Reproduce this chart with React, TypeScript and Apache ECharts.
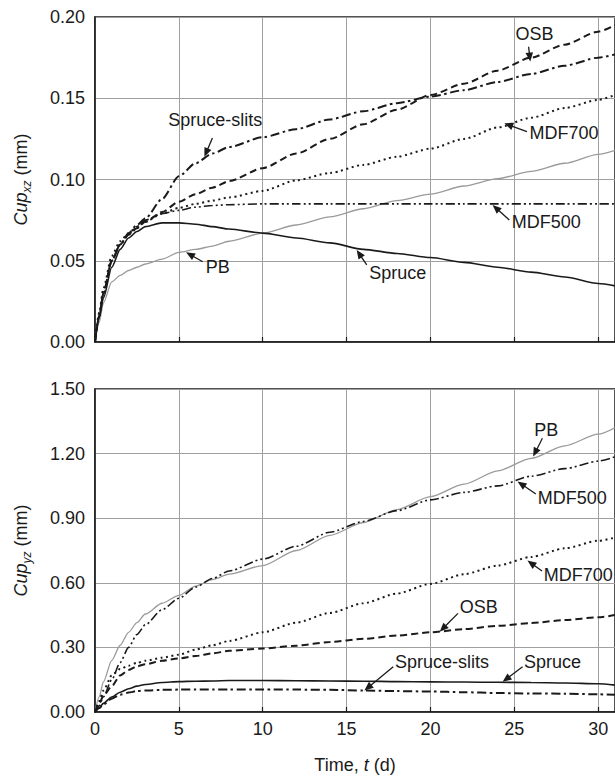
import React, { useEffect, useRef } from "react";
import * as echarts from "echarts";

// ---- data (time in days) ----
const time = [0, 0.25, 0.5, 1, 1.5, 2, 2.5, 3, 4, 5, 6, 7, 8, 10, 12, 14, 16, 18, 20, 22, 24, 26, 28, 30, 31];

// Top panel: Cup_xz (mm)
const xzSpruce = [0, 0.015, 0.027, 0.046, 0.057, 0.064, 0.068, 0.071, 0.0733, 0.0733, 0.0725, 0.071, 0.0695, 0.067, 0.064, 0.061, 0.057, 0.0545, 0.052, 0.049, 0.046, 0.043, 0.04, 0.036, 0.0345];
const xzPB = [0, 0.012, 0.024, 0.037, 0.041, 0.044, 0.046, 0.048, 0.051, 0.0552, 0.057, 0.059, 0.062, 0.067, 0.072, 0.077, 0.082, 0.087, 0.091, 0.096, 0.1005, 0.105, 0.11, 0.1155, 0.118];
const xzMDF500 = [0, 0.016, 0.03, 0.05, 0.06, 0.066, 0.071, 0.075, 0.079, 0.081, 0.083, 0.084, 0.0845, 0.085, 0.085, 0.085, 0.085, 0.085, 0.085, 0.085, 0.085, 0.085, 0.085, 0.085, 0.085];
const xzMDF700 = [0, 0.018, 0.033, 0.053, 0.062, 0.067, 0.071, 0.074, 0.079, 0.0825, 0.085, 0.087, 0.089, 0.093, 0.0995, 0.104, 0.109, 0.114, 0.119, 0.125, 0.132, 0.138, 0.144, 0.149, 0.152];
const xzOSB = [0, 0.016, 0.03, 0.05, 0.06, 0.066, 0.07, 0.074, 0.08, 0.0863, 0.091, 0.095, 0.099, 0.107, 0.116, 0.125, 0.134, 0.143, 0.152, 0.159, 0.167, 0.175, 0.183, 0.191, 0.195];
const xzSpruceSlits = [0, 0.016, 0.03, 0.05, 0.06, 0.067, 0.072, 0.076, 0.088, 0.102, 0.11, 0.116, 0.12, 0.126, 0.131, 0.137, 0.142, 0.147, 0.151, 0.155, 0.16, 0.165, 0.17, 0.175, 0.177];

// Bottom panel: Cup_yz (mm)
const yzPB = [0, 0.07, 0.14, 0.24, 0.31, 0.37, 0.415, 0.455, 0.505, 0.542, 0.585, 0.615, 0.64, 0.68, 0.75, 0.82, 0.88, 0.94, 1.0, 1.058, 1.12, 1.178, 1.236, 1.29, 1.32];
const yzMDF500 = [0, 0.03, 0.07, 0.15, 0.23, 0.3, 0.36, 0.405, 0.475, 0.528, 0.58, 0.62, 0.655, 0.71, 0.77, 0.835, 0.885, 0.935, 0.985, 1.02, 1.05, 1.095, 1.13, 1.165, 1.185];
const yzMDF700 = [0, 0.05, 0.1, 0.17, 0.2, 0.215, 0.228, 0.238, 0.252, 0.266, 0.29, 0.31, 0.33, 0.37, 0.415, 0.46, 0.505, 0.55, 0.595, 0.64, 0.68, 0.72, 0.76, 0.795, 0.81];
const yzOSB = [0, 0.04, 0.075, 0.12, 0.17, 0.195, 0.212, 0.222, 0.238, 0.249, 0.26, 0.272, 0.284, 0.295, 0.308, 0.325, 0.34, 0.355, 0.37, 0.385, 0.4, 0.413, 0.427, 0.44, 0.45];
const yzSpruce = [0, 0.02, 0.04, 0.07, 0.092, 0.108, 0.12, 0.128, 0.137, 0.141, 0.143, 0.144, 0.146, 0.146, 0.145, 0.144, 0.143, 0.141, 0.14, 0.139, 0.138, 0.137, 0.135, 0.131, 0.125];
const yzSpruceSlits = [0, 0.018, 0.035, 0.062, 0.08, 0.09, 0.097, 0.1, 0.103, 0.104, 0.105, 0.105, 0.105, 0.104, 0.104, 0.103, 0.1, 0.097, 0.095, 0.092, 0.088, 0.086, 0.085, 0.082, 0.08];

const xTicks = [0, 5, 10, 15, 20, 25, 30];

// annotations: label anchor, arrow tail, arrow tip (data units)
const topNotes = [
  { text: "Spruce-slits", at: [7.17, 0.1366], align: "center", tail: [7.0, 0.1255], tip: [6.52, 0.114] },
  { text: "PB", at: [6.6, 0.0464], align: "left", tail: [6.42, 0.0494], tip: [5.43, 0.0552] },
  { text: "OSB", at: [26.2, 0.1895], align: "center", tail: [25.85, 0.1817], tip: [25.95, 0.1726] },
  { text: "MDF700", at: [25.9, 0.1284], align: "left", tail: [25.75, 0.1294], tip: [24.4, 0.1346] },
  { text: "MDF500", at: [24.85, 0.074], align: "left", tail: [24.7, 0.0751], tip: [23.7, 0.0843] },
  { text: "Spruce", at: [16.35, 0.0423], align: "left", tail: [16.2, 0.0474], tip: [15.6, 0.0566] },
];
const bottomNotes = [
  { text: "PB", at: [26.9, 1.31], align: "center", tail: [26.67, 1.271], tip: [26.12, 1.186] },
  { text: "MDF500", at: [26.4, 0.9926], align: "left", tail: [26.28, 1.0125], tip: [25.19, 1.07] },
  { text: "MDF700", at: [26.75, 0.636], align: "left", tail: [26.65, 0.655], tip: [25.78, 0.703] },
  { text: "OSB", at: [22.88, 0.489], align: "center", tail: [21.64, 0.458], tip: [20.55, 0.373] },
  { text: "Spruce-slits", at: [20.69, 0.234], align: "center", tail: [17.78, 0.21], tip: [16.06, 0.1] },
  { text: "Spruce", at: [27.27, 0.234], align: "center", tail: [25.49, 0.21], tip: [24.3, 0.14] },
];

const FONT = "Liberation Sans, Arial, Helvetica, sans-serif";
const INK = "#1a1a1a";
const FS = 18;

const pairs = (vals: number[]) => time.map((t, i) => [t, vals[i]]);

const styles: Record<string, any> = {
  Spruce: { color: INK, width: 1.6, type: "solid" },
  PB: { color: "#9a9a9a", width: 1.3, type: "solid" },
  MDF500: { color: INK, width: 1.6, type: [9, 3, 2, 3, 2, 3] },
  MDF700: { color: INK, width: 2, type: [2, 3.5] },
  OSB: { color: INK, width: 2, type: [7, 4] },
  "Spruce-slits": { color: INK, width: 2, type: [9, 3.5, 2.5, 3.5] },
};

function mkSeries(name: string, vals: number[], idx: number) {
  const s = styles[name];
  return {
    name,
    type: "line",
    xAxisIndex: idx,
    yAxisIndex: idx,
    data: pairs(vals),
    showSymbol: false,
    smooth: 0.25,
    smoothMonotone: "x",
    lineStyle: { color: s.color, width: s.width, type: s.type },
    z: name === "PB" ? 2 : 3,
  };
}

export default function App() {
  const ref = useRef<HTMLDivElement>(null);
  useEffect(() => {
    if (!ref.current) return;
    const chart = echarts.init(ref.current, null, { renderer: "svg" });
    const gridLine = { show: true, lineStyle: { color: "#a0a0a0", width: 1 } };
    const axisLine = { show: true, onZero: false, lineStyle: { color: INK, width: 1.5 } };
    const xAxisBase = {
      type: "value",
      min: 0,
      max: 31,
      interval: 5,
      splitLine: gridLine,
      axisLine,
      axisTick: { show: true, inside: true, length: 5, lineStyle: { color: INK, width: 1.2 } },
    };
    const yName = (sub: string) => ({
      name: `{i|Cup}{s|${sub}}{n| (mm)}`,
      nameLocation: "middle",
      nameRotate: 90,
      nameGap: 62,
      nameTextStyle: {
        rich: {
          i: { fontFamily: FONT, fontSize: FS, fontStyle: "italic", color: INK, lineHeight: 24, verticalAlign: "middle" },
          s: { fontFamily: FONT, fontSize: 12, fontStyle: "italic", color: INK, lineHeight: 12, verticalAlign: "bottom" },
          n: { fontFamily: FONT, fontSize: FS, color: INK, lineHeight: 24, verticalAlign: "middle" },
        },
      },
    });
    const yLabel = { show: true, color: INK, fontFamily: FONT, fontSize: FS, margin: 10, formatter: (v: number) => v.toFixed(2) };

    const option: any = {
      animation: false,
      backgroundColor: "#ffffff",
      grid: [
        { left: 95, top: 17, width: 523, height: 325, show: true, borderColor: INK, borderWidth: 1.5 },
        { left: 95, top: 389, width: 523, height: 323, show: true, borderColor: INK, borderWidth: 1.5 },
      ],
      xAxis: [
        { ...xAxisBase, gridIndex: 0, axisLabel: { show: false } },
        {
          ...xAxisBase,
          gridIndex: 1,
          axisLabel: {
            show: true,
            color: INK,
            fontFamily: FONT,
            fontSize: FS,
            margin: 8,
            showMaxLabel: false,
            formatter: (v: number) => (xTicks.includes(v) ? String(v) : ""),
          },
          name: "Time, {i|t} (d)",
          nameLocation: "middle",
          nameGap: 44,
          nameTextStyle: {
            color: INK,
            fontFamily: FONT,
            fontSize: FS,
            rich: { i: { fontFamily: FONT, fontSize: FS, fontStyle: "italic", color: INK } },
          },
        },
      ],
      yAxis: [
        {
          type: "value",
          gridIndex: 0,
          min: 0,
          max: 0.2,
          interval: 0.05,
          splitLine: gridLine,
          axisLine,
          axisTick: { show: false },
          axisLabel: yLabel,
          ...yName("xz"),
        },
        {
          type: "value",
          gridIndex: 1,
          min: 0,
          max: 1.5,
          interval: 0.3,
          splitLine: gridLine,
          axisLine,
          axisTick: { show: false },
          axisLabel: yLabel,
          ...yName("yz"),
        },
      ],
      series: [
        mkSeries("PB", xzPB, 0),
        mkSeries("Spruce", xzSpruce, 0),
        mkSeries("MDF500", xzMDF500, 0),
        mkSeries("MDF700", xzMDF700, 0),
        mkSeries("OSB", xzOSB, 0),
        mkSeries("Spruce-slits", xzSpruceSlits, 0),
        mkSeries("PB", yzPB, 1),
        mkSeries("MDF500", yzMDF500, 1),
        mkSeries("MDF700", yzMDF700, 1),
        mkSeries("OSB", yzOSB, 1),
        mkSeries("Spruce", yzSpruce, 1),
        mkSeries("Spruce-slits", yzSpruceSlits, 1),
      ],
    };
    chart.setOption(option);

    const elems: any[] = [];
    const addNotes = (notes: any[], gridIndex: number) => {
      notes.forEach((n) => {
        const p = chart.convertToPixel({ gridIndex } as any, n.at) as number[];
        const a = chart.convertToPixel({ gridIndex } as any, n.tail) as number[];
        const b = chart.convertToPixel({ gridIndex } as any, n.tip) as number[];
        elems.push({
          type: "text",
          x: p[0],
          y: p[1],
          z: 100,
          style: { text: n.text, fill: INK, fontSize: FS, fontFamily: FONT, align: n.align, verticalAlign: "middle" },
        });
        const dx = b[0] - a[0];
        const dy = b[1] - a[1];
        const len = Math.sqrt(dx * dx + dy * dy) || 1;
        const ux = dx / len;
        const uy = dy / len;
        const hl = 9;
        const hw = 3.8;
        const bx = b[0] - ux * hl;
        const by = b[1] - uy * hl;
        elems.push({
          type: "line",
          z: 100,
          shape: { x1: a[0], y1: a[1], x2: bx + ux * 1, y2: by + uy * 1 },
          style: { stroke: INK, lineWidth: 1.3 },
        });
        elems.push({
          type: "polygon",
          z: 100,
          shape: {
            points: [
              [b[0], b[1]],
              [bx - uy * hw, by + ux * hw],
              [bx + uy * hw, by - ux * hw],
            ],
          },
          style: { fill: INK },
        });
      });
    };
    addNotes(topNotes, 0);
    addNotes(bottomNotes, 1);
    chart.setOption({ graphic: elems });

    return () => chart.dispose();
  }, []);
  return <div ref={ref} style={{ position: "fixed", left: 0, top: 0, width: 615, height: 776, background: "#fff" }} />;
}
